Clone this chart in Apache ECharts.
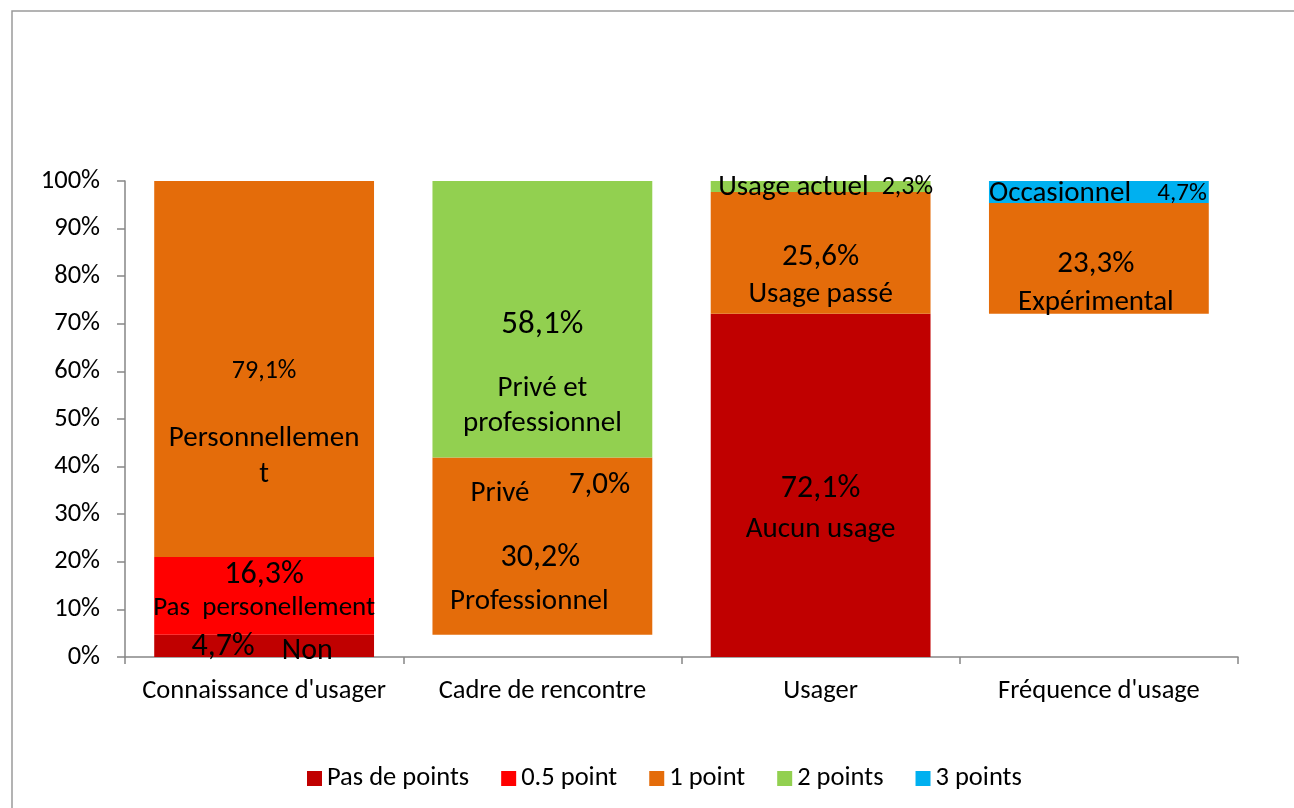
<!DOCTYPE html>
<html>
<head>
<meta charset="utf-8">
<script src="https://cdn.jsdelivr.net/npm/echarts@6/dist/echarts.min.js"></script>
<style>
  html, body { margin: 0; padding: 0; background: #fff; }
  #main { width: 1294px; height: 808px; }
</style>
</head>
<body>
<div id="main"></div>
<script>
// données (en %)
var categories = ["Connaissance d'usager", 'Cadre de rencontre', 'Usager', "Fréquence d'usage"];
var base = [null, 4.7, null, 72.1];          // partie vide sous les barres
var pasDePoints = [4.7, null, 72.1, null];
var demiPoint = [16.3, null, null, null];
var unPoint = [79.1, 30.2, 25.6, 23.3];
var unPointPrive = [null, 7.0, null, null];
var deuxPoints = [null, 58.1, 2.3, null];
var troisPoints = [null, null, null, 4.7];
var yTicks = [0, 10, 20, 30, 40, 50, 60, 70, 80, 90, 100];

var FONT = 'Carlito, Lato, sans-serif';

function pct(v) {
  return v.toFixed(1).replace('.', ',') + '%';
}

// textes des étiquettes, par série et par catégorie
var labels = {
  pasDePoints: [
    { f: function (v) { return '{v|' + pct(v) + '}{t|    Non}'; }, offset: [-2, 1],
      rich: { v: { fontSize: 32 }, t: { fontSize: 30, padding: [10, 0, 0, 0] } } },
    null,
    { f: function (v) { return '{v|' + pct(v) + '}\n{t|Aucun usage}'; }, offset: [0, 22],
      rich: { v: { fontSize: 32, lineHeight: 44 }, t: { fontSize: 29, lineHeight: 36 } } },
    null
  ],
  demiPoint: [
    { f: function (v) { return '{v|' + pct(v) + '}\n{t|Pas  personellement}'; }, offset: [0, -4],
      rich: { v: { fontSize: 32, lineHeight: 33 }, t: { fontSize: 27, lineHeight: 33 } } },
    null, null, null
  ],
  unPoint: [
    { f: function (v) { return '{v|' + pct(v) + '}\n{t|Personnellemen}\n{t|t}'; }, offset: [0, 38],
      rich: { v: { fontSize: 26, lineHeight: 100 }, t: { fontSize: 29, lineHeight: 36 } } },
    { f: function (v) { return '{v|' + pct(v) + '}\n{t|Professionnel}'; }, offset: [-2, 17],
      rich: { v: { fontSize: 32, lineHeight: 44 }, t: { fontSize: 29, lineHeight: 44, padding: [0, 22, 0, 0] } } },
    { f: function (v) { return '{v|' + pct(v) + '}\n{t|Usage passé}'; }, offset: [0, 23],
      rich: { v: { fontSize: 31, lineHeight: 37 }, t: { fontSize: 29, lineHeight: 37 } } },
    { f: function (v) { return '{v|' + pct(v) + '}\n{t|Expérimental}'; }, offset: [-3, 25],
      rich: { v: { fontSize: 31, lineHeight: 39 }, t: { fontSize: 29, lineHeight: 39 } } }
  ],
  unPointPrive: [
    null,
    { f: function (v) { return '{t|Privé      }{v|' + pct(v) + '}'; }, offset: [8, 20],
      rich: { v: { fontSize: 31, padding: [0, 0, 18, 0] }, t: { fontSize: 29 } } },
    null, null
  ],
  deuxPoints: [
    null,
    { f: function (v) { return '{v|' + pct(v) + '}\n{t|Privé et}\n{t|professionnel}'; }, offset: [0, 40],
      rich: { v: { fontSize: 33, lineHeight: 93 }, t: { fontSize: 29, lineHeight: 35 } } },
    { f: function (v) { return '{t|Usage actuel  }{v|' + pct(v) + '}'; }, offset: [5, 1],
      rich: { v: { fontSize: 26 }, t: { fontSize: 29 } } },
    null
  ],
  troisPoints: [
    null, null, null,
    { f: function (v) { return '{t|Occasionnel    }{v|' + pct(v) + '}'; }, offset: [-1, 2],
      rich: { v: { fontSize: 25 }, t: { fontSize: 29 } } }
  ]
};

function buildData(values, key) {
  return values.map(function (v, i) {
    var l = labels[key] && labels[key][i];
    if (v == null || !l) return v;
    var rich = {};
    Object.keys(l.rich).forEach(function (k) {
      rich[k] = Object.assign({ color: '#000', fontFamily: FONT }, l.rich[k]);
    });
    return {
      value: v,
      label: {
        show: true,
        position: 'inside',
        formatter: l.f(v),
        offset: l.offset,
        color: '#000',
        fontFamily: FONT,
        rich: rich
      }
    };
  });
}

function barSeries(name, values, key, color) {
  return {
    name: name,
    type: 'bar',
    stack: 'total',
    barWidth: '79%',
    data: buildData(values, key),
    itemStyle: { color: color },
    label: { show: false },
    emphasis: { disabled: true }
  };
}

var myChart = echarts.init(document.getElementById('main'));

var option = {
  animation: false,
  backgroundColor: '#fff',
  textStyle: { fontFamily: FONT },
  graphic: [{
    type: 'rect',
    shape: { x: 12, y: 11, width: 1300, height: 820 },
    style: { fill: 'none', stroke: '#9a9a9a', lineWidth: 1.5 },
    silent: true
  }],
  legend: {
    data: ['Pas de points', '0.5 point', '1 point', '2 points', '3 points'],
    top: 760,
    left: 302,
    icon: 'rect',
    itemWidth: 15,
    itemHeight: 15,
    itemGap: 32,
    selectedMode: false,
    textStyle: { fontSize: 26.5, color: '#000', fontFamily: FONT }
  },
  grid: { left: 125, right: 56, top: 181, bottom: 151, containLabel: false },
  xAxis: {
    type: 'category',
    data: categories,
    axisLine: { lineStyle: { color: '#868686', width: 1.5 } },
    axisTick: { show: true, interval: 0, length: 7, lineStyle: { color: '#868686', width: 1.5 } },
    axisLabel: { color: '#000', fontSize: 26.5, margin: 21, interval: 0, fontFamily: FONT }
  },
  yAxis: {
    type: 'value',
    min: yTicks[0],
    max: yTicks[yTicks.length - 1],
    interval: yTicks[1] - yTicks[0],
    splitLine: { show: false },
    axisLine: { show: true, lineStyle: { color: '#868686', width: 1.5 } },
    axisTick: { show: true, length: 8, lineStyle: { color: '#868686', width: 1.5 } },
    axisLabel: { color: '#000', fontSize: 26.5, margin: 25, formatter: '{value}%', fontFamily: FONT }
  },
  series: [
    Object.assign(barSeries('base', base, null, 'transparent'), { silent: true, legendHoverLink: false }),
    barSeries('Pas de points', pasDePoints, 'pasDePoints', '#C00000'),
    barSeries('0.5 point', demiPoint, 'demiPoint', '#FF0000'),
    barSeries('1 point', unPoint, 'unPoint', '#E46C0A'),
    barSeries('1 point', unPointPrive, 'unPointPrive', '#E46C0A'),
    barSeries('2 points', deuxPoints, 'deuxPoints', '#92D050'),
    barSeries('3 points', troisPoints, 'troisPoints', '#00B0F0')
  ]
};

myChart.setOption(option);
</script>
</body>
</html>
